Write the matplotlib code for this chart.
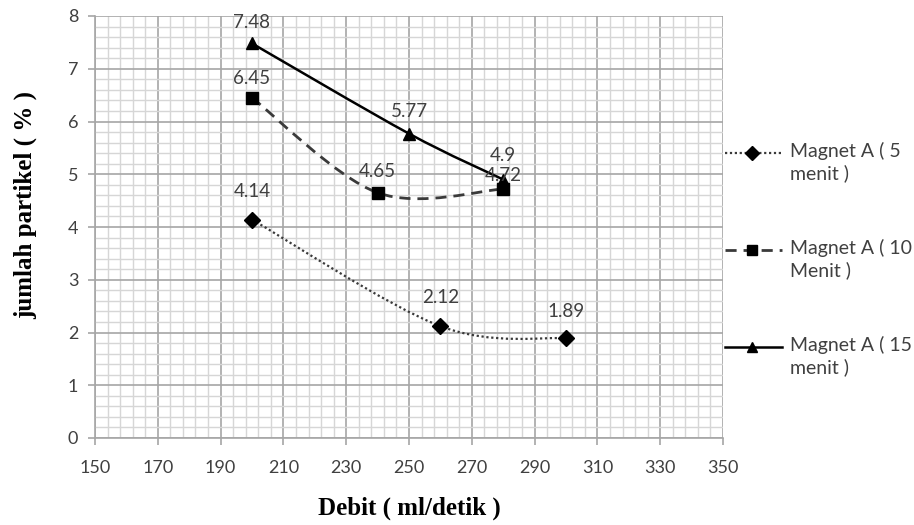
import numpy as np
import matplotlib
matplotlib.use("Agg")
import matplotlib.pyplot as plt
from matplotlib.path import Path
from matplotlib.patches import PathPatch
from matplotlib.lines import Line2D

# data
debit_5 = [200, 260, 300]
partikel_5 = [4.14, 2.12, 1.89]
debit_10 = [200, 240, 280]
partikel_10 = [6.45, 4.65, 4.72]
debit_15 = [200, 250, 280]
partikel_15 = [7.48, 5.77, 4.9]
labels = ["Magnet A ( 5\nmenit )", "Magnet A ( 10\nMenit )", "Magnet A ( 15\nmenit )"]
x_ticks = np.arange(150, 351, 20)

# label offsets above each point (pixels)
off_5 = [28, 29, 27]
off_10 = [19, 21, 14]
off_15 = [21, 22, 24]

txt_col = "#404040"
font = ["Lato", "DejaVu Sans"]
W, H = 914, 525


def smooth_path(xs, ys):
    # excel-like smoothed line through the points
    pts = np.column_stack([xs, ys]).astype(float)
    n = len(pts)
    verts = [pts[0]]
    codes = [Path.MOVETO]
    for i in range(n - 1):
        p0 = pts[max(i - 1, 0)]
        p1 = pts[i]
        p2 = pts[i + 1]
        p3 = pts[min(i + 2, n - 1)]
        verts += [p1 + (p2 - p0) / 6, p2 - (p3 - p1) / 6, p2]
        codes += [Path.CURVE4] * 3
    return Path(verts, codes)


fig = plt.figure(figsize=(W / 100, H / 100), dpi=100)
ax = fig.add_axes([95 / W, 1 - 438 / H, 628 / W, 422 / H])

ax.set_xlim(150, 350)
ax.set_ylim(0, 8)
ax.set_xticks(x_ticks)
ax.set_xticks(np.arange(150, 351, 4), minor=True)
ax.set_yticks(np.arange(0, 9, 1))
ax.set_yticks(np.arange(0, 8.01, 0.2), minor=True)
ax.grid(which="minor", color="#d6d6d6", linewidth=1.0)
ax.grid(which="major", color="#a6a6a6", linewidth=1.2)
ax.set_axisbelow(True)
for s in ["top", "right"]:
    ax.spines[s].set_visible(False)
for s in ["left", "bottom"]:
    ax.spines[s].set_color("#a6a6a6")
    ax.spines[s].set_linewidth(1.2)
ax.tick_params(which="major", length=5, color="#a6a6a6", width=1.2,
               labelsize=13, labelcolor=txt_col)
ax.tick_params(which="minor", length=0)
ax.tick_params(axis="x", pad=11)
ax.tick_params(axis="y", pad=7)
for t in ax.get_xticklabels() + ax.get_yticklabels():
    t.set_family(font)

series = [
    (debit_5, partikel_5, off_5, "D", 8.5, (0, (1, 1.2)), 1.6, "#3a3a3a"),
    (debit_10, partikel_10, off_10, "s", 8.5, (0, (4, 2.5)), 2.0, "#3a3a3a"),
    (debit_15, partikel_15, off_15, "^", 8.5, "-", 1.8, "black"),
]

leg_y = [153, 250, 347]
for (xs, ys, offs, mk, ms, ls, lw, col), lab, ly in zip(series, labels, leg_y):
    ax.add_patch(PathPatch(smooth_path(xs, ys), fill=False, edgecolor=col,
                           linestyle=ls, linewidth=lw, zorder=3))
    ax.plot(xs, ys, linestyle="none", marker=mk, markersize=ms,
            color="black", zorder=4)
    for x, y, o in zip(xs, ys, offs):
        ax.annotate(f"{y:g}", (x, y), xytext=(0, o), textcoords="offset pixels",
                    ha="center", va="center", fontsize=13.5, color=txt_col,
                    family=font, zorder=5)
    # legend entry, handle aligned with the first text line
    fy = 1 - ly / H
    fig.add_artist(Line2D([725 / W, 782 / W], [fy, fy], color=col,
                          linestyle=ls, linewidth=lw))
    fig.add_artist(Line2D([752 / W], [fy], marker=mk, markersize=ms - 1,
                          color="black", linestyle="none"))
    fig.text(790 / W, fy + 11 / H, lab, ha="left", va="top", fontsize=14,
             color=txt_col, family=font, linespacing=1.3)

ax.set_xlabel("Debit ( ml/detik )", family="Liberation Serif", weight="bold",
              fontsize=18, color="black", va="center")
ax.xaxis.set_label_coords(0.5, -(508 - 438) / 422)
ax.set_ylabel("jumlah partikel ( % )", family="Liberation Serif", weight="bold",
              fontsize=18, color="black", va="center")
ax.yaxis.set_label_coords(-(95 - 25) / 628, (438 - 205) / 422)

fig.savefig("out.png", dpi=100)
